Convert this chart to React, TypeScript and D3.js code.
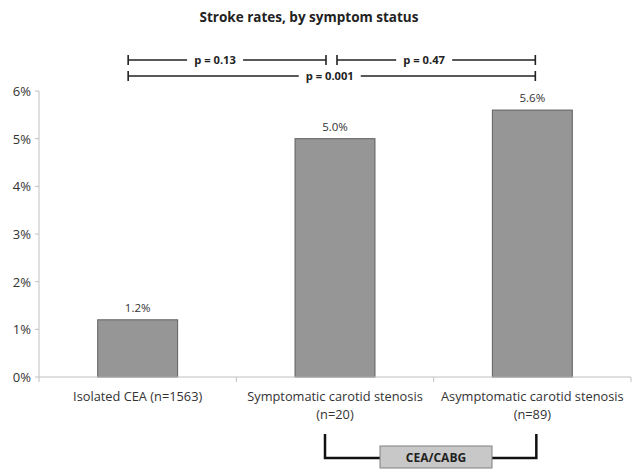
import React from "react";
import * as d3 from "d3";

const categories = ["Isolated CEA (n=1563)", "Symptomatic carotid stenosis|(n=20)", "Asymptomatic carotid stenosis|(n=89)"];
const values = [1.2, 5.0, 5.6];
const valueLabels = ["1.2%", "5.0%", "5.6%"];
const yTicks = [0, 1, 2, 3, 4, 5, 6];
const brackets = [
  { from: 0, to: 1, label: "p = 0.13", row: 0 },
  { from: 1, to: 2, label: "p = 0.47", row: 0 },
  { from: 0, to: 2, label: "p = 0.001", row: 1 },
];
const groupLabel = "CEA/CABG";

const W = 636, H = 474;
const left = 39, right = 631, top = 91, bottom = 377;
const font = "'Open Sans', 'Liberation Sans', sans-serif";

export default function App() {
  const x = d3.scaleBand<number>().domain([0, 1, 2]).range([left, right]).paddingInner(0).paddingOuter(0);
  const y = d3.scaleLinear().domain([0, 6]).range([bottom, top]);
  const bw = x.bandwidth();
  const barW = bw * 0.405;
  const cx = (i: number) => (x(i) as number) + bw / 2;
  const bx0 = (i: number) => cx(i) + (i === 0 ? -9.5 : 2);
  const bx1 = (i: number) => cx(i) + (i === 1 ? -9 : 3);
  const rowY = [60, 76];
  const labelW = (s: string) => s.length * 6 + 8;
  return (
    <svg width={W} height={H} style={{ position: "absolute", left: 0, top: 0, background: "#fff" }} fontFamily={font}>
      <rect width={W} height={H} fill="#fff" />
      <text x={309} y={22} textAnchor="middle" fontWeight="bold" fontSize={13.5} fill="#222">Stroke rates, by symptom status</text>
      {brackets.map((b, i) => {
        const x0 = bx0(b.from), x1 = bx1(b.to), yy = rowY[b.row];
        const mid = (x0 + x1) / 2 - (b.row === 0 ? 12 : 2);
        const lw = labelW(b.label);
        return (
          <g key={i} stroke="#222" strokeWidth={1.6}>
            <line x1={x0} x2={x1} y1={yy} y2={yy} />
            <line x1={x0} x2={x0} y1={yy - 5} y2={yy + 5} />
            <line x1={x1} x2={x1} y1={yy - 5} y2={yy + 5} />
            <rect x={mid - lw / 2} y={yy - 7} width={lw} height={14} fill="#fff" stroke="none" />
            <text x={mid} y={yy + 4} textAnchor="middle" fontWeight="bold" fontSize={11.2} fill="#222" stroke="none">{b.label}</text>
          </g>
        );
      })}
      <line x1={left} x2={left} y1={top} y2={bottom} stroke="#c0c0c0" strokeWidth={1} />
      {yTicks.map((t) => (
        <g key={t}>
          <line x1={left - 4} x2={left} y1={y(t)} y2={y(t)} stroke="#c0c0c0" />
          <text x={left - 8} y={y(t) + 5} textAnchor="end" fontSize={13} fill="#333">{t}%</text>
        </g>
      ))}
      {values.map((v, i) => (
        <g key={i}>
          <rect x={cx(i) - barW / 2} y={y(v)} width={barW} height={bottom - y(v)} fill="#969696" stroke="#5f5f5f" strokeWidth={1} />
          <text x={cx(i)} y={y(v) - 8} textAnchor="middle" fontSize={11.5} fill="#333">{valueLabels[i]}</text>
        </g>
      ))}
      <line x1={left} x2={right} y1={bottom} y2={bottom} stroke="#c0c0c0" strokeWidth={1} />
      {[0, 1, 2, 3].map((i) => {
        const xx = left + i * bw;
        return <line key={i} x1={xx} x2={xx} y1={bottom} y2={bottom + 5} stroke="#c0c0c0" />;
      })}
      {categories.map((c, i) => (
        <text key={i} x={cx(i)} textAnchor="middle" fontSize={12.8} fill="#333">
          {c.split("|").map((ln, j) => (
            <tspan key={j} x={cx(i)} y={401 + j * 18}>{ln}</tspan>
          ))}
        </text>
      ))}
      <g stroke="#111" strokeWidth={2.5} fill="none">
        <polyline points={`${cx(1) - 10},434 ${cx(1) - 10},458 ${380},458`} />
        <polyline points={`${492},458 ${cx(2) + 4},458 ${cx(2) + 4},434`} />
      </g>
      <rect x={380} y={446} width={112} height={22} fill="#c8c8c8" stroke="#808080" strokeWidth={1} />
      <text x={436} y={461.5} textAnchor="middle" fontWeight="bold" fontSize={12} fill="#222">{groupLabel}</text>
    </svg>
  );
}
